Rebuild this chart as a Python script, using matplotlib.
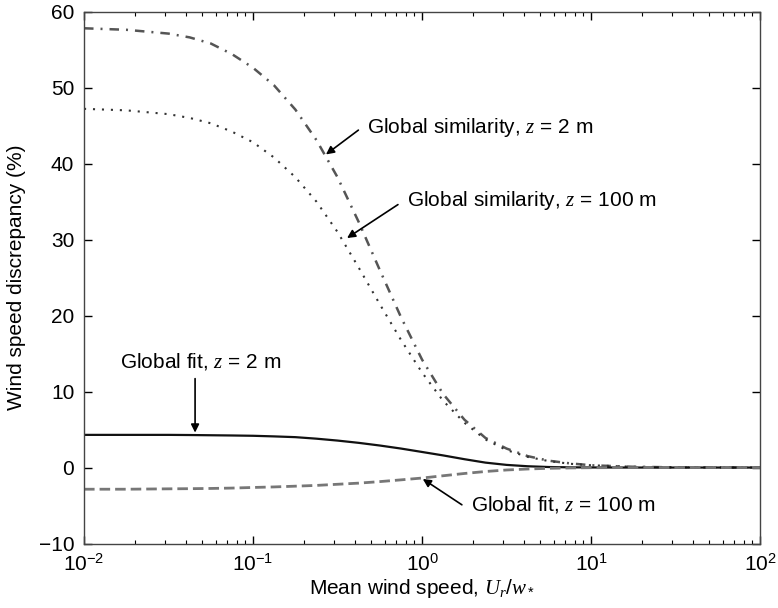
# Wind speed discrepancy vs mean wind speed (log x axis)

import numpy as np
import matplotlib
matplotlib.use("Agg")
import matplotlib.pyplot as plt
from matplotlib.ticker import LogLocator, FixedLocator

plt.rcParams["font.family"] = ["Liberation Sans", "DejaVu Sans"]
plt.rcParams["mathtext.fontset"] = "custom"
plt.rcParams["mathtext.rm"] = "Liberation Sans"
plt.rcParams["mathtext.it"] = "Liberation Serif:italic"
plt.rcParams["mathtext.bf"] = "Liberation Sans:bold"
plt.rcParams["font.size"] = 15


# Mean wind speed U_r / w_*
speed = [0.01, 0.0178, 0.0316, 0.0422, 0.0562, 0.075, 0.1, 0.133, 0.178, 0.237,
         0.316, 0.422, 0.562, 0.75, 1.0, 1.33, 1.78, 2.37, 3.16, 4.22,
         5.62, 7.5, 10.0, 17.8, 31.6, 100.0]

# Wind speed discrepancy (%)
sim_2m   = [57.8, 57.6, 57.1, 56.6, 55.8, 54.4, 52.6, 50.3, 47.1, 43.1,
            38.2, 32.3, 26.0, 19.8, 14.2, 9.7, 6.3, 3.9, 2.5, 1.5,
            0.9, 0.55, 0.3, 0.1, 0.03, 0.0]
sim_100m = [47.2, 47.0, 46.5, 46.0, 45.3, 44.2, 42.8, 40.8, 38.2, 35.0,
            31.0, 26.3, 21.5, 16.8, 12.5, 8.8, 5.9, 3.7, 2.3, 1.4,
            0.85, 0.5, 0.3, 0.1, 0.03, 0.0]
fit_2m   = [4.3, 4.3, 4.3, 4.28, 4.25, 4.22, 4.18, 4.1, 4.0, 3.8,
            3.55, 3.25, 2.9, 2.5, 2.05, 1.6, 1.1, 0.65, 0.35, 0.17,
            0.07, 0.03, 0.01, 0.0, 0.0, 0.0]
fit_100m = [-2.85, -2.85, -2.8, -2.78, -2.75, -2.7, -2.62, -2.55, -2.45, -2.35,
            -2.2, -2.05, -1.85, -1.62, -1.38, -1.08, -0.78, -0.52, -0.32, -0.19,
            -0.1, -0.05, -0.02, 0.0, 0.0, 0.0]

xticks = [1e-2, 1e-1, 1e0, 1e1, 1e2]
yticks = [-10, 0, 10, 20, 30, 40, 50, 60]


# Plot ........................................................................

fig = plt.figure(figsize = (7.78, 6.08), dpi = 100)
ax = fig.add_axes([0.108, 0.106, 0.869, 0.875])

ax.plot(speed, sim_2m, color = "#555555", lw = 1.8, linestyle = (0, (3.8, 2.8, 0.8, 2.8)))
ax.plot(speed, sim_100m, color = "#333333", lw = 1.5, linestyle = (0, (1, 3.3)))
ax.plot(speed, fit_2m, color = "#111111", lw = 1.6, linestyle = "-")
ax.plot(speed, fit_100m, color = "#777777", lw = 2.0, linestyle = (0, (3.8, 1.8)))

ax.set_xscale("log")
ax.set_xlim(1e-2, 1e2)
ax.set_ylim(-10, 60)
ax.xaxis.set_major_locator(FixedLocator(xticks))
ax.xaxis.set_minor_locator(LogLocator(base = 10, subs = np.arange(2, 10)))
ax.yaxis.set_major_locator(FixedLocator(yticks))

ax.tick_params(which = "both", direction = "in", top = True, right = True, color = "k")
ax.tick_params(which = "major", length = 6, width = 1.0, pad = 7)
ax.tick_params(which = "minor", length = 3, width = 0.8)
for sp in ax.spines.values():
    sp.set_color("#444444")
    sp.set_linewidth(1.0)

ax.set_xlabel("Mean wind speed, $U_r/w_*$")
ax.set_ylabel("Wind speed discrepancy (%)")
ax.yaxis.set_label_coords(-0.086, 0.5)
ax.xaxis.set_label_coords(0.5, -0.062)

# Annotations
arrow = dict(arrowstyle = "-|>", color = "k", lw = 1.2, mutation_scale = 12,
             shrinkA = 0, shrinkB = 0)

ax.text(0.471, 44.8, "Global similarity, $z$ = 2 m", ha = "left", va = "center")
ax.annotate("", xy = (0.27, 41.2), xytext = (0.42, 44.4), arrowprops = arrow)

ax.text(0.812, 35.2, "Global similarity, $z$ = 100 m", ha = "left", va = "center")
ax.annotate("", xy = (0.36, 30.2), xytext = (0.72, 34.6), arrowprops = arrow)

ax.text(0.0163, 13.95, "Global fit, $z$ = 2 m", ha = "left", va = "center")
ax.annotate("", xy = (0.0454, 4.6), xytext = (0.0454, 11.7), arrowprops = arrow)

ax.text(1.95, -4.9, "Global fit, $z$ = 100 m", ha = "left", va = "center")
ax.annotate("", xy = (1.01, -1.5), xytext = (1.72, -4.9), arrowprops = arrow)

fig.savefig("out.png", dpi = 100)
